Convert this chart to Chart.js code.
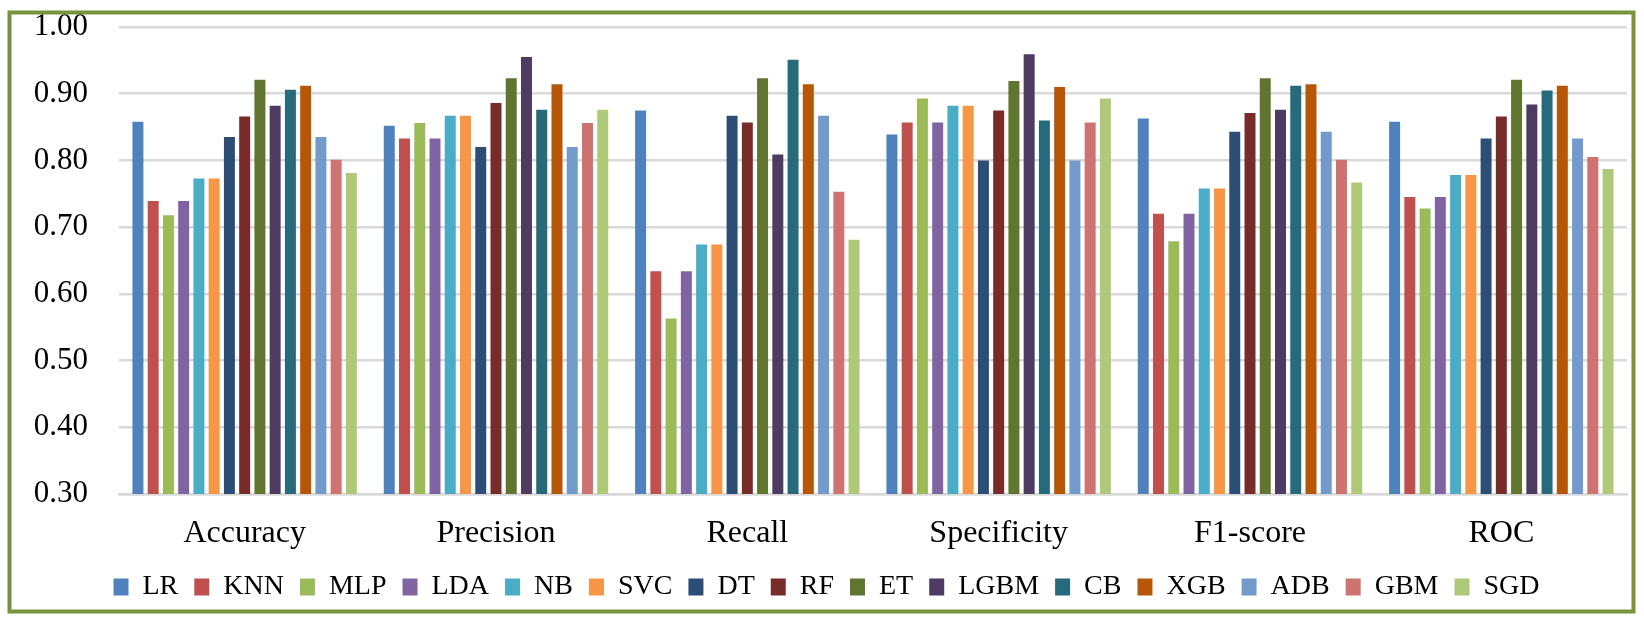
<!DOCTYPE html>
<html>
<head>
<meta charset="utf-8">
<script src="https://cdn.jsdelivr.net/npm/chart.js@4"></script>
<style>
  html, body { margin: 0; padding: 0; background: #fff; }
  canvas { display: block; }
</style>
</head>
<body>
<canvas id="chart" width="1644" height="621"></canvas>
<script>
// metric groups on the x axis
const metrics = ['Accuracy', 'Precision', 'Recall', 'Specificity', 'F1-score', 'ROC'];

// one array per model, values in metric order
const LR   = [0.858, 0.852, 0.875, 0.839, 0.863, 0.858];
const KNN  = [0.739, 0.833, 0.634, 0.857, 0.720, 0.745];
const MLP  = [0.718, 0.856, 0.563, 0.893, 0.679, 0.728];
const LDA  = [0.739, 0.833, 0.634, 0.857, 0.720, 0.745];
const NB   = [0.773, 0.867, 0.674, 0.882, 0.758, 0.778];
const SVC  = [0.773, 0.867, 0.674, 0.882, 0.758, 0.778];
const DT   = [0.835, 0.820, 0.867, 0.800, 0.843, 0.833];
const RF   = [0.866, 0.886, 0.857, 0.875, 0.871, 0.866];
const ET   = [0.921, 0.923, 0.923, 0.919, 0.923, 0.921];
const LGBM = [0.882, 0.955, 0.809, 0.959, 0.876, 0.884];
const CB   = [0.906, 0.876, 0.951, 0.860, 0.912, 0.905];
const XGB  = [0.912, 0.914, 0.914, 0.910, 0.914, 0.912];
const ADB  = [0.835, 0.820, 0.867, 0.800, 0.843, 0.833];
const GBM  = [0.801, 0.856, 0.753, 0.857, 0.801, 0.805];
const SGD  = [0.781, 0.876, 0.681, 0.893, 0.767, 0.787];

const modelNames = ['LR', 'KNN', 'MLP', 'LDA', 'NB', 'SVC', 'DT', 'RF', 'ET', 'LGBM', 'CB', 'XGB', 'ADB', 'GBM', 'SGD'];
const modelValues = [LR, KNN, MLP, LDA, NB, SVC, DT, RF, ET, LGBM, CB, XGB, ADB, GBM, SGD];
const modelColors = ['#4F81BD', '#C0504D', '#9BBB59', '#8064A2', '#4BACC6', '#F79646', '#2C4D75',
                     '#772C2A', '#5F7530', '#4D3B62', '#276A7C', '#B65708', '#729ACA', '#CD7371', '#AFC97A'];

// y axis range
const yMin = 0.30;
const yMax = 1.00;
const yStep = 0.10;

const FONT = "'Liberation Serif', 'Times New Roman', serif";

// white background and the olive frame round the whole chart
const framePlugin = {
    id: 'frame',
    beforeDraw(chart) {
        const ctx = chart.ctx;
        ctx.save();
        ctx.fillStyle = '#ffffff';
        ctx.fillRect(0, 0, chart.width, chart.height);
        ctx.restore();
    },
    afterDraw(chart) {
        const ctx = chart.ctx;
        ctx.save();
        ctx.strokeStyle = '#77933C';
        ctx.lineWidth = 4;
        ctx.strokeRect(9.5, 12.5, 1624, 599);
        ctx.restore();
    }
};

const datasets = modelNames.map((name, i) => ({
    label: name,
    data: modelValues[i],
    backgroundColor: modelColors[i],
    borderWidth: 0,
    categoryPercentage: 0.91,
    barPercentage: 0.72,
}));

new Chart(document.getElementById('chart').getContext('2d'), {
    type: 'bar',
    data: { labels: metrics, datasets: datasets },
    plugins: [framePlugin],
    options: {
        responsive: false,
        animation: false,
        devicePixelRatio: 1,
        // left padding only moves the legend centre; the y axis width makes up for it
        layout: { padding: { left: 26, right: 17, top: 27, bottom: 10 } },
        plugins: {
            tooltip: { enabled: false },
            legend: {
                position: 'bottom',
                labels: {
                    color: '#000',
                    font: { family: FONT, size: 28 },
                    boxWidth: 15,
                    boxHeight: 17,
                    padding: 16,
                },
            },
        },
        scales: {
            x: {
                grid: { display: false, drawTicks: false },
                border: { color: '#D9D9D9', width: 2.5 },
                ticks: { color: '#000', font: { family: FONT, size: 32 }, padding: 20 },
                afterFit(scale) { scale.height = 63; },
            },
            y: {
                min: yMin,
                max: yMax,
                grid: { color: '#D9D9D9', lineWidth: 2.5, drawTicks: false },
                border: { display: false },
                ticks: {
                    stepSize: yStep,
                    color: '#000',
                    font: { family: FONT, size: 31 },
                    padding: 31,
                    callback: v => v.toFixed(2),
                },
                afterFit(scale) {
                    scale.width = 93;
                    // tick padding would otherwise push the plot top down
                    scale.paddingTop = 0;
                    scale.paddingBottom = 0;
                },
            },
        },
    },
});
</script>
</body>
</html>
